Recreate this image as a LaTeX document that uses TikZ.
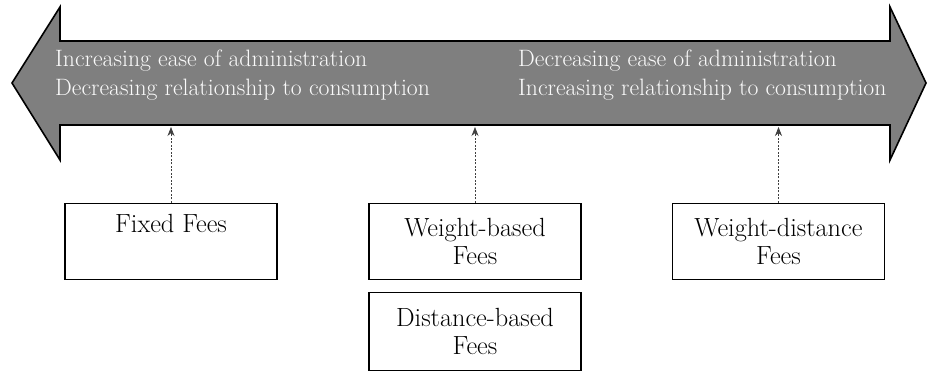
\documentclass[tikz,border=0pt]{standalone}
\usetikzlibrary{arrows.meta}
\definecolor{bandgray}{HTML}{7F7F7F}
\definecolor{bandtextcol}{HTML}{FAFAFA}
\begin{document}
\begin{tikzpicture}[x=1pt,y=-1pt,
  band/.style={fill=bandgray,draw=black,line width=1.6pt,line join=miter},
  bandtext/.style={text=bandtextcol,font=\fontsize{23.7}{29}\selectfont,align=left,anchor=west,inner sep=0pt},
  feebox/.style={draw=black,line width=1.4pt,minimum width=212pt,minimum height=76pt,
    font=\fontsize{26.3}{28}\selectfont,align=center,inner sep=0pt,anchor=north},
  link/.style={dash pattern=on 2pt off 1.5pt,line width=0.7pt,draw=black!75,
    -{Stealth[length=9pt,width=7pt]}}]
\useasboundingbox (0,0) rectangle (928,371);

% double-headed band
\draw[band] (12,83) -- (60,7) -- (60,41) -- (890,41) -- (890,7) -- (926,83)
  -- (890,160) -- (890,125) -- (60,125) -- (60,160) -- cycle;
\coordinate (bandbottom) at (0,127);

\node[bandtext] (lefttext) at (55,75) {Increasing ease of administration\\Decreasing relationship to consumption};
\node[bandtext] (righttext) at (518,75) {Decreasing ease of administration\\Increasing relationship to consumption};

% fee types
\node[feebox] (fixed) at (171,203) {Fixed Fees\\\strut};
\node[feebox] (weight) at (475,203) {Weight-based\\Fees};
\node[feebox] (wdist) at (778.5,203) {Weight-distance\\Fees};
\node[feebox,minimum height=78pt] (dist) at (475,292) {Distance-based\\Fees};

% links to the band
\draw[link] (fixed.north) -- (fixed.north |- bandbottom);
\draw[link] (weight.north) -- (weight.north |- bandbottom);
\draw[link] (wdist.north) -- (wdist.north |- bandbottom);
\end{tikzpicture}
\end{document}
